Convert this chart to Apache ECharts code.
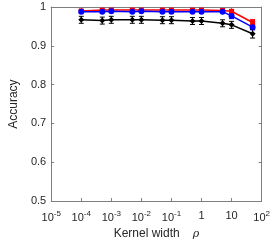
<!DOCTYPE html>
<html><head><meta charset="utf-8">
<script src="https://cdn.jsdelivr.net/npm/echarts@6/dist/echarts.min.js"></script>
<style>html,body{margin:0;padding:0;background:#fff}#c{width:273px;height:245px}</style>
</head><body><div id="c"></div>
<script>
const rho = [1e-4, 5e-4, 1e-3, 5e-3, 1e-2, 5e-2, 0.1, 0.5, 1, 5, 10, 50];
const redAcc = [0.990, 0.992, 0.992, 0.992, 0.992, 0.992, 0.992, 0.992, 0.992, 0.991, 0.989, 0.960];
const redErr = [0.003, 0.003, 0.003, 0.003, 0.003, 0.003, 0.003, 0.003, 0.003, 0.003, 0.004, 0.008];
const blueAcc = [0.988, 0.988, 0.989, 0.988, 0.989, 0.988, 0.988, 0.988, 0.988, 0.988, 0.977, 0.948];
const blueErr = [0.003, 0.003, 0.003, 0.003, 0.003, 0.003, 0.003, 0.003, 0.003, 0.003, 0.007, 0.007];
const blackAcc = [0.967, 0.965, 0.967, 0.967, 0.967, 0.966, 0.966, 0.964, 0.964, 0.958, 0.954, 0.931];
const blackErr = [0.009, 0.009, 0.009, 0.009, 0.009, 0.009, 0.009, 0.009, 0.009, 0.009, 0.009, 0.011];
const yTicks = ['0.5', '0.6', '0.7', '0.8', '0.9', '1'];

const FONT = '"Liberation Sans", Arial, sans-serif';
const AX = '#7f7f7f';
const TXT = '#262626';

function pts(acc) { return rho.map((r, i) => [r, acc[i]]); }
function errs(acc, e) { return rho.map((r, i) => [r, acc[i] - e[i], acc[i] + e[i]]); }

function errSeries(acc, e, color) {
  return {
    type: 'custom', z: 3,
    renderItem: function (params, api) {
      const x = api.value(0);
      const lo = api.coord([x, api.value(1)]);
      const hi = api.coord([x, api.value(2)]);
      const w = 2.5;
      const st = { stroke: color, lineWidth: 1 };
      return { type: 'group', children: [
        { type: 'line', shape: { x1: lo[0], y1: lo[1], x2: hi[0], y2: hi[1] }, style: st },
        { type: 'line', shape: { x1: lo[0] - w, y1: lo[1], x2: lo[0] + w, y2: lo[1] }, style: st },
        { type: 'line', shape: { x1: hi[0] - w, y1: hi[1], x2: hi[0] + w, y2: hi[1] }, style: st }
      ]};
    },
    data: errs(acc, e)
  };
}

function lineSeries(acc, color, sym, size) {
  return {
    type: 'line', data: pts(acc), symbol: sym, symbolSize: size, z: 4,
    lineStyle: { color: color, width: 1.5 },
    itemStyle: { color: color },
    showSymbol: true, animation: false
  };
}

const chart = echarts.init(document.getElementById('c'), null, { renderer: 'canvas' });
chart.setOption({
  animation: false,
  grid: { left: 36, right: 11, top: 7, bottom: 41 },
  xAxis: [{
    type: 'log', logBase: 10, min: 1e-5, max: 100, interval: 1,
    name: 'Kernel width{g|}{r|ρ}', nameLocation: 'middle', nameGap: 26,
    nameTextStyle: { color: TXT, fontFamily: FONT, fontSize: 12,
      rich: {
        g: { width: 13 },
        r: { fontStyle: 'italic', fontFamily: '"DejaVu Serif", serif', fontSize: 11, color: TXT }
      } },
    axisLine: { lineStyle: { color: AX, width: 1 } },
    axisTick: { inside: true, length: 3, lineStyle: { color: AX } },
    splitLine: { show: false },
    axisLabel: {
      margin: 9, color: TXT, fontFamily: FONT, fontSize: 11,
      formatter: function (v) {
        const k = Math.round(Math.log10(v));
        if (k === 0) return '1';
        if (k === 1) return '10';
        return '{b|10}{s|' + k + '}';
      },
      rich: {
        b: { fontSize: 11, fontFamily: FONT, color: TXT },
        s: { fontSize: 8, fontFamily: FONT, color: TXT, verticalAlign: 'bottom', padding: [0, 0, 7, 0] }
      }
    }
  }, {
    type: 'log', logBase: 10, min: 1e-5, max: 100, interval: 1, position: 'top',
    axisLine: { lineStyle: { color: AX, width: 1 } },
    axisTick: { inside: true, length: 3, lineStyle: { color: AX } },
    axisLabel: { show: false }, splitLine: { show: false }
  }],
  yAxis: [{
    type: 'value', min: 0.5, max: 1, interval: 0.1,
    name: 'Accuracy', nameLocation: 'middle', nameGap: 30,
    nameTextStyle: { color: TXT, fontFamily: FONT, fontSize: 12 },
    axisLine: { show: true, lineStyle: { color: AX, width: 1 } },
    axisTick: { show: true, inside: true, length: 3, lineStyle: { color: AX } },
    splitLine: { show: false },
    axisLabel: {
      margin: 5, color: TXT, fontFamily: FONT, fontSize: 11,
      formatter: function (v) { return yTicks[Math.round((v - 0.5) * 10)]; }
    }
  }, {
    type: 'value', min: 0.5, max: 1, interval: 0.1, position: 'right',
    axisLine: { show: true, lineStyle: { color: AX, width: 1 } },
    axisTick: { show: true, inside: true, length: 3, lineStyle: { color: AX } },
    axisLabel: { show: false }, splitLine: { show: false }
  }],
  series: [
    errSeries(redAcc, redErr, '#ff0000'),
    lineSeries(redAcc, '#ff0000', 'rect', 5),
    errSeries(blueAcc, blueErr, '#0000ff'),
    lineSeries(blueAcc, '#0000ff', 'circle', 6),
    errSeries(blackAcc, blackErr, '#000000'),
    lineSeries(blackAcc, '#000000', 'diamond', 6)
  ]
});
</script>
</body></html>
